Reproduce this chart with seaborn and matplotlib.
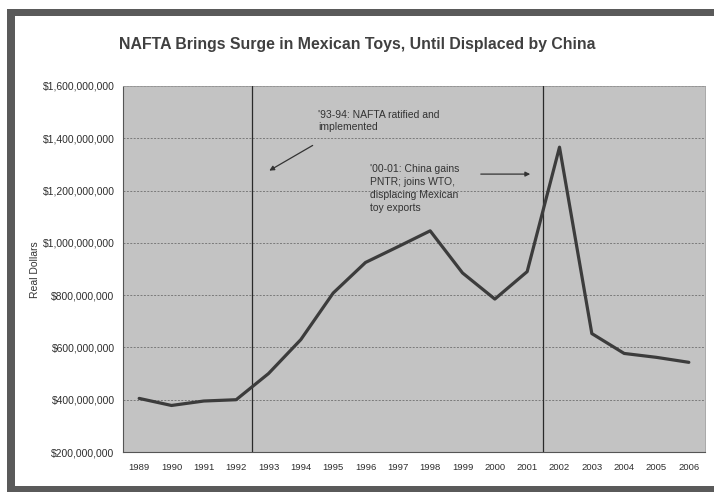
import matplotlib
matplotlib.use("Agg")
import matplotlib.pyplot as plt
from matplotlib.patches import Rectangle
from matplotlib.ticker import FuncFormatter
import seaborn as sns
import pandas as pd

years = [1989, 1990, 1991, 1992, 1993, 1994, 1995, 1996, 1997, 1998,
         1999, 2000, 2001, 2002, 2003, 2004, 2005, 2006]
values = [405e6, 378e6, 395e6, 400e6, 500e6, 630e6, 808e6, 925e6, 985e6, 1046e6,
          885e6, 785e6, 890e6, 1366e6, 653e6, 577e6, 562e6, 543e6]
event_lines = [1992.5, 2001.5]
y_ticks = [200e6, 400e6, 600e6, 800e6, 1000e6, 1200e6, 1400e6, 1600e6]
title = "NAFTA Brings Surge in Mexican Toys, Until Displaced by China"
ylabel = "Real Dollars"
note1 = "'93-94: NAFTA ratified and\nimplemented"
note2 = "'00-01: China gains\nPNTR; joins WTO,\ndisplacing Mexican\ntoy exports"

sns.set_style("white")
plt.rcParams['font.family'] = ['Liberation Sans', 'DejaVu Sans']

W, H = 714, 494
fig = plt.figure(figsize=(W / 100, H / 100), dpi=100)
fig.patch.set_facecolor("white")

# outer frame
bc = "#5a5a5a"
fig.add_artist(Rectangle((7 / W, 1 - 16 / H), 1, 7 / H, transform=fig.transFigure, color=bc, lw=0))
fig.add_artist(Rectangle((7 / W, 2 / H), 8 / W, 1 - 11 / H, transform=fig.transFigure, color=bc, lw=0))
fig.add_artist(Rectangle((7 / W, 2 / H), 1, 6 / H, transform=fig.transFigure, color=bc, lw=0))

ax = fig.add_axes([123 / W, (H - 452) / H, (705 - 123) / W, (452 - 86) / H])
ax.set_facecolor("#c3c3c3")

df = pd.DataFrame({"Year": years, "Value": values})
sns.lineplot(data=df, x="Year", y="Value", ax=ax, color="#3c3c3c", linewidth=2.3, zorder=5)

for xv in event_lines:
    ax.axvline(xv, color="#2a2a2a", linewidth=0.9, zorder=3)

ax.set_xlim(1988.5, 2006.5)
ax.set_ylim(200e6, 1600e6)
ax.set_yticks(y_ticks)
ax.set_xticks(years)
ax.set_xticklabels([str(y) for y in years])
ax.yaxis.set_major_formatter(FuncFormatter(lambda v, p: "${:,.0f}".format(v)))
ax.grid(axis="y", color="#7a7a7a", linestyle=(0, (2, 1.5)), linewidth=0.7)
ax.grid(axis="x", visible=False)
ax.set_axisbelow(True)
for s in ["left", "bottom"]:
    ax.spines[s].set_color("#555555")
    ax.spines[s].set_linewidth(0.8)
    ax.spines[s].set_linestyle((0, (2, 1)))
for s in ["top", "right"]:
    ax.spines[s].set_visible(True)
    ax.spines[s].set_color("#9a9a9a")
    ax.spines[s].set_linewidth(0.6)
ax.tick_params(axis="y", labelsize=7.5, colors="#2e2e2e", length=3, width=0.6, pad=3)
ax.tick_params(axis="x", labelsize=6.8, colors="#2e2e2e", length=0, pad=8)
ax.set_xlabel("")
ax.set_ylabel("")

ax.annotate("", xy=(1992.95, 1271e6), xytext=(1994.44, 1378e6),
            arrowprops=dict(arrowstyle="-|>", color="#333333", lw=0.9, mutation_scale=7), zorder=6)
ax.text(1994.53, 1510e6, note1, ha="left", va="top", fontsize=7.5, color="#333333", linespacing=1.3)
ax.annotate("", xy=(2001.18, 1263e6), xytext=(1999.48, 1263e6),
            arrowprops=dict(arrowstyle="-|>", color="#333333", lw=0.9, mutation_scale=7), zorder=6)
ax.text(1996.14, 1303e6, note2, ha="left", va="top", fontsize=7.5, color="#333333", linespacing=1.38)

fig.text(357 / W, 1 - 45 / H, title, ha="center", va="center", fontsize=11.4,
         fontweight="bold", color="#404040")
fig.text(35 / W, 1 - 270 / H, ylabel, ha="center", va="center", rotation=90,
         fontsize=7.5, color="#333333")

fig.savefig("out.png", dpi=100)
